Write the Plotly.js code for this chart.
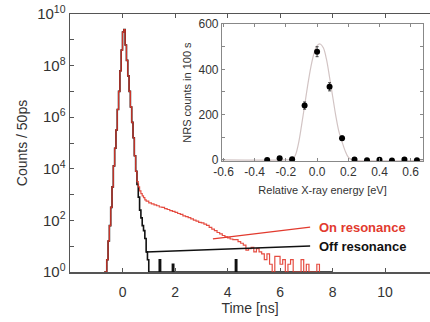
<!DOCTYPE html>
<html>
<head>
<meta charset="utf-8">
<script src="https://cdn.plot.ly/plotly-3.0.1.min.js"></script>
<style>html,body{margin:0;padding:0;background:#fff;}#chart{width:430px;height:322px;}</style>
</head>
<body>
<div id="chart"></div>
<script>
// ---- Main panel: time spectra (counts per 50 ps bin) ----
var offTime = [-0.70,-0.65,-0.60,-0.55,-0.50,-0.45,-0.40,-0.35,-0.30,-0.25,-0.20,-0.15,-0.10,-0.05,0.00,0.05,0.10,0.15,0.20,0.25,0.30,0.35,0.40,0.45,0.50,0.55,0.60,0.65,0.70,0.75,0.80,0.85,0.90,0.95,1.00,1.35,1.40,1.45,1.85,1.90,1.95,4.25,4.30,4.35,8.00];
var offCounts = [1,1,3,16,63,320,2000,13000,63000,320000,2e6,1e7,6.3e7,4e8,2e9,2.5e9,6.3e8,1.6e8,4e7,1e7,2.5e6,6.3e5,1.6e5,3.2e4,8000,2500,800,250,125,63,40,20,6,3,1,1,3,1,1,2,1,1,3,1,1];

var onTime = [-0.70,-0.65,-0.60,-0.55,-0.50,-0.45,-0.40,-0.35,-0.30,-0.25,-0.20,-0.15,-0.10,-0.05,0.00,0.05,0.10,0.15,0.20,0.25,0.30,0.35,0.40,0.45,0.50,0.55,0.60,0.65,0.70,0.75,0.80,0.85,0.90,1.0,1.1,1.2,1.3,1.4,1.5,1.6,1.7,1.8,1.9,2.0,2.1,2.2,2.3,2.4,2.5,2.6,2.7,2.8,2.9,3.0,3.1,3.2,3.3,3.4,3.5,3.6,3.7,3.8,3.9,4.0,4.1,4.2,4.3,4.4,4.5,4.6,4.7,4.8,4.9,5.0,5.1,5.2,5.3,5.4,5.5,5.6,5.7,5.8,5.9,6.0,6.1,6.2,6.3,6.4,6.5,6.6,6.7,6.8,6.9,7.0,7.1,7.2,7.3,7.4,7.5];
var onCounts = [1,1,3,16,63,320,2000,13000,63000,320000,2e6,1e7,6.3e7,4e8,2e9,2.5e9,6.3e8,1.6e8,4e7,1e7,2.5e6,6.3e5,1.6e5,3.2e4,8000,3200,2000,1400,1100,900,760,630,560,480,440,400,370,330,320,285,265,240,225,205,185,170,150,140,128,115,102,94,84,80,72,64,54,46,40,34,30,26,23,21,19,18,18,15,13,11,7,8,9,6,8,6,5,3,5,2,1,4,4,2,3,1,2,3,1,1,1,3,1,2,1,1,1,2,1,1];

var yTickVals = [1,10,100,1e3,1e4,1e5,1e6,1e7,1e8,1e9,1e10];
var yTickText = ['10<sup>0</sup>','','10<sup>2</sup>','','10<sup>4</sup>','','10<sup>6</sup>','','10<sup>8</sup>','','10<sup>10</sup>'];
var xTickVals = [0,2,4,6,8,10];

// ---- Inset: energy scan ----
var energy = [-0.32,-0.24,-0.16,-0.08,0.00,0.08,0.16,0.24,0.32,0.40,0.48,0.56,0.64];
var nrsCounts = [0,7,3,240,478,323,96,2,-1,1,-3,2,-1];
var nrsErr = [2,3,2,16,22,18,10,2,2,2,2,2,2];
var fitEnergy = [-0.62,-0.20,-0.16,-0.14,-0.12,-0.10,-0.08,-0.06,-0.04,-0.02,0.00,0.02,0.04,0.06,0.08,0.10,0.12,0.14,0.16,0.18,0.20,0.22,0.70];
var fitCounts = [0,0,2,20,70,150,240,330,410,470,505,512,495,445,365,280,195,125,80,40,12,2,0];

var font = 'Liberation Sans, Arial, sans-serif';
var red = '#e23a2e';

var traces = [
  {x: offTime, y: offCounts, type: 'scatter', mode: 'lines', line: {color: '#111', width: 1.6, shape: 'hv'}, xaxis: 'x', yaxis: 'y', hoverinfo: 'skip'},
  {x: onTime, y: onCounts, type: 'scatter', mode: 'lines', line: {color: red, width: 1.2, shape: 'hv'}, opacity: 0.9, xaxis: 'x', yaxis: 'y', hoverinfo: 'skip'},
  {x: fitEnergy, y: fitCounts, type: 'scatter', mode: 'lines', line: {color: '#d2c4c4', width: 1.2, shape: 'spline'}, xaxis: 'x2', yaxis: 'y2', hoverinfo: 'skip'},
  {x: energy, y: nrsCounts, type: 'scatter', mode: 'markers', marker: {color: '#000', size: 6},
   error_y: {type: 'data', array: nrsErr, color: '#444', thickness: 1, width: 1.5}, xaxis: 'x2', yaxis: 'y2', hoverinfo: 'skip'}
];

var layout = {
  width: 430, height: 322,
  margin: {l: 70, r: 0, t: 14, b: 50},
  paper_bgcolor: '#fff', plot_bgcolor: 'rgba(0,0,0,0)',
  showlegend: false,
  font: {family: font, color: '#333'},
  xaxis: {
    range: [-2, 11.71], showgrid: false, zeroline: false,
    showline: true, linecolor: '#555', linewidth: 1.5, mirror: 'ticks',
    ticks: 'inside', ticklen: 4, tickcolor: '#555', tickwidth: 1,
    tickvals: xTickVals, tickfont: {size: 14, color: '#333'}, ticklabelstandoff: 7,
    title: {text: 'Time [ns]', font: {size: 14, color: '#333'}, standoff: 0}
  },
  yaxis: {
    type: 'log', range: [0, 10], showgrid: false, zeroline: false,
    showline: true, linecolor: '#555', linewidth: 1.5,
    ticks: 'inside', ticklen: 4, tickcolor: '#555', tickwidth: 1,
    tickvals: yTickVals, ticktext: yTickText, tickfont: {size: 15, color: '#333'},
    title: {text: 'Counts / 50ps', font: {size: 14, color: '#333'}, standoff: 6}
  },
  xaxis2: {
    domain: [0.422, 0.981], anchor: 'y2', range: [-0.61, 0.68],
    showgrid: false, zeroline: false, showline: true, linecolor: '#888', linewidth: 1, mirror: 'ticks',
    ticks: 'inside', ticklen: 3, tickcolor: '#888',
    tickvals: [-0.6,-0.4,-0.2,0.0,0.2,0.4,0.6], ticktext: ['-0.6','-0.4','-0.2','0.0','0.2','0.4','0.6'],
    tickfont: {size: 12, color: '#333'},
    title: {text: 'Relative X-ray energy [eV]', font: {size: 11, color: '#333'}, standoff: 7}
  },
  yaxis2: {
    domain: [0.43, 0.961], anchor: 'x2', range: [-5, 600],
    showgrid: false, zeroline: false, showline: true, linecolor: '#888', linewidth: 1, mirror: 'ticks',
    ticks: 'inside', ticklen: 3, tickcolor: '#888',
    tickvals: [0,100,200,300,400,500,600], ticktext: ['0','','200','','400','','600'],
    tickfont: {size: 12, color: '#333'},
    title: {text: 'NRS counts in 100 s', font: {size: 11, color: '#333'}, standoff: 4}
  },
  shapes: [
    {type: 'line', xref: 'paper', yref: 'paper', x0: 0.397, y0: 0.128, x1: 0.667, y1: 0.174, line: {color: red, width: 1.3}},
    {type: 'line', xref: 'paper', yref: 'paper', x0: 0.211, y0: 0.0775, x1: 0.667, y1: 0.1008, line: {color: '#111', width: 1.3}}
  ],
  annotations: [
    {xref: 'paper', yref: 'paper', x: 0.686, y: 0.173, xanchor: 'left', yanchor: 'middle', showarrow: false,
     text: '<b>On resonance</b>', font: {size: 13, color: red}},
    {xref: 'paper', yref: 'paper', x: 0.686, y: 0.098, xanchor: 'left', yanchor: 'middle', showarrow: false,
     text: '<b>Off resonance</b>', font: {size: 13, color: '#111'}}
  ]
};

Plotly.newPlot('chart', traces, layout, {displayModeBar: false, staticPlot: true});
</script>
</body>
</html>
